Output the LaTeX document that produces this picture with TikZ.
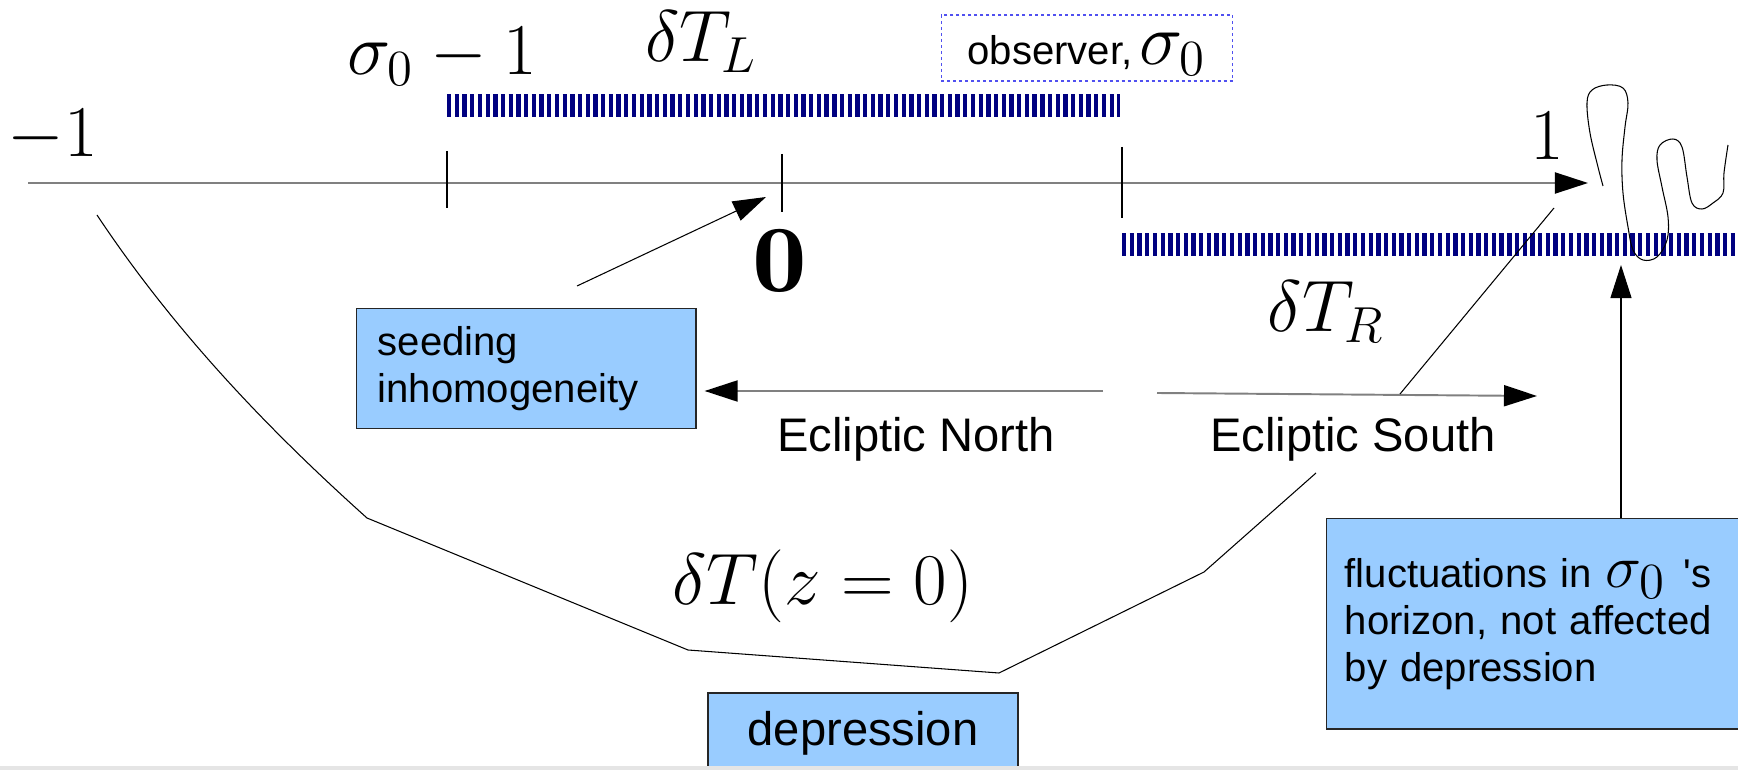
\documentclass[tikz,border=0pt]{standalone}
\usepackage[dvipsnames,svgnames,x11names]{xcolor}
\usepackage{tikz,amsmath,amssymb}
\usepackage{fontspec}
\setsansfont{Liberation Sans}
\usetikzlibrary{arrows.meta,calc}

\definecolor{boxblue}{HTML}{99CCFF}
\definecolor{barnavy}{HTML}{000080}
\definecolor{obsblue}{HTML}{5050F0}

\begin{document}
\begin{tikzpicture}[x=0.01cm,y=-0.01cm,line width=0.3pt,
    arrowline/.style={-{Triangle[length=0.33cm,width=0.21cm,color=black]}},
    grayline/.style={gray,line width=0.55pt},
    hatch/.style={barnavy,line width=0.23cm,dash pattern=on 0.043cm off 0.034cm},
    bluebox/.style={draw=black!85,fill=boxblue,line width=0.4pt,
        font=\fontsize{11.4}{13.4}\selectfont\sffamily},
    mathlab/.style={font=\fontsize{21.8}{26}\selectfont,anchor=base},
    sanslab/.style={font=\fontsize{13.4}{16}\selectfont\sffamily,anchor=base}]
    \useasboundingbox (0,0) rectangle (1738,770);

    % axis and ticks
    \coordinate (ax0) at (28,183);
    \coordinate (ax1) at (1588,183);
    \coordinate (tL) at (447,183);
    \coordinate (t0) at (782,183);
    \coordinate (tS) at (1122,183);
    \draw[grayline,arrowline] (ax0) -- (ax1);
    \draw ($(tL)+(0,-32)$) -- ($(tL)+(0,25)$);
    \draw ($(t0)+(0,-29)$) -- ($(t0)+(0,29)$);
    \draw ($(tS)+(0,-36)$) -- ($(tS)+(0,35)$);

    % the two hatched bars
    \coordinate (barL0) at (447,105.5);
    \coordinate (barL1) at (1120,105.5);
    \coordinate (barR0) at (1122,244.5);
    \coordinate (barR1) at (1745,244.5);
    \draw[hatch] (barL0) -- (barL1);
    \draw[hatch] (barR0) -- (barR1);

    % labels on the axis
    \node[mathlab] (mone) at (53,157) {$-1$};
    \node[mathlab] (sigL) at (442,75) {$\sigma_0-1$};
    \node[mathlab] (dTL) at (701,62) {$\delta T_L$};
    \node[font=\fontsize{27}{30}\selectfont,anchor=base] (zero) at (780,292) {\scalebox{1.15}[1]{$\mathbf{0}$}};
    \node[mathlab] (one) at (1547,160) {$1$};
    \node[mathlab] (dTR) at (1326,332) {$\delta T_R$};
    \node[mathlab] (dTz) at (823,605) {$\delta T(z=0)$};

    \node[draw=obsblue,dash pattern=on 0.03cm off 0.03cm,line width=0.4pt,
        font=\fontsize{11.4}{13.4}\selectfont\sffamily,anchor=base,
        text height=0.5cm,text depth=0.16cm,inner ysep=0pt,minimum width=2.91cm]
        (obs) at (1087,65) {observer,\,{\fontsize{19.5}{22}\selectfont$\sigma_0$}};

    % boxes
    \node[bluebox,anchor=north west,minimum width=3.39cm,minimum height=1.2cm,
        text width=2.97cm,align=left,inner xsep=0.21cm]
        (seed) at (356,308) {seeding\\inhomogeneity};
    \node[bluebox,anchor=north west,minimum width=4.2cm,minimum height=2.1cm,
        text width=3.84cm,align=left,inner xsep=0.18cm]
        (fluct) at (1326,518) {fluctuations in {\fontsize{19}{20}\selectfont$\sigma_0$}\hspace{0.18cm}{\textquotesingle}s\\horizon, not affected\\by depression};
    \node[bluebox,font=\fontsize{13.4}{16}\selectfont\sffamily,anchor=base,
        text height=0.34cm,text depth=0.8cm,inner ysep=0.18cm,minimum width=3.1cm]
        (depr) at (863,745) {depression};

    \node[sanslab] (north) at (916,452) {Ecliptic North};
    \node[sanslab] (south) at (1353,452) {Ecliptic South};

    % arrows
    \coordinate (seedTail) at (577,286);
    \coordinate (zeroTip) at (766,197);
    \draw[arrowline] (seedTail) -- (zeroTip);
    \coordinate (nStart) at (1103,391);
    \draw[grayline,arrowline,shorten >=0.08cm] (nStart) -- (seed.east |- nStart);
    \coordinate (sStart) at (1157,393);
    \coordinate (sEnd) at (1537,396);
    \draw[grayline,arrowline] (sStart) -- (sEnd);
    \coordinate (slTop) at (1554,208);
    \coordinate (slBot) at (1400,394);
    \draw (slTop) -- (slBot);
    \coordinate (upTip) at (1621,265);
    \draw[arrowline] (upTip |- fluct.north) -- (upTip);

    % depression curve
    \draw (97,215) .. controls (180,340) and (280,440) .. (367,518)
        -- (688,650) -- (999,673) -- (1204,572) -- (1316,473);

    % squiggle
    \draw plot[smooth,tension=0.6] coordinates {(1603,186) (1598,167) (1590,133)
        (1587,103) (1592,90) (1607,85) (1623,88) (1628,103) (1625,127) (1622,160)
        (1623,193) (1628,227) (1633,250) (1643,260) (1657,257) (1667,240)
        (1668,217) (1662,187) (1657,160) (1660,145) (1673,139) (1682,147)
        (1687,177) (1692,203) (1702,209) (1713,203) (1723,193) (1724,173) (1728,145)};

    \fill[gray!20] (0,766) rectangle (1738,770);
\end{tikzpicture}
\end{document}
